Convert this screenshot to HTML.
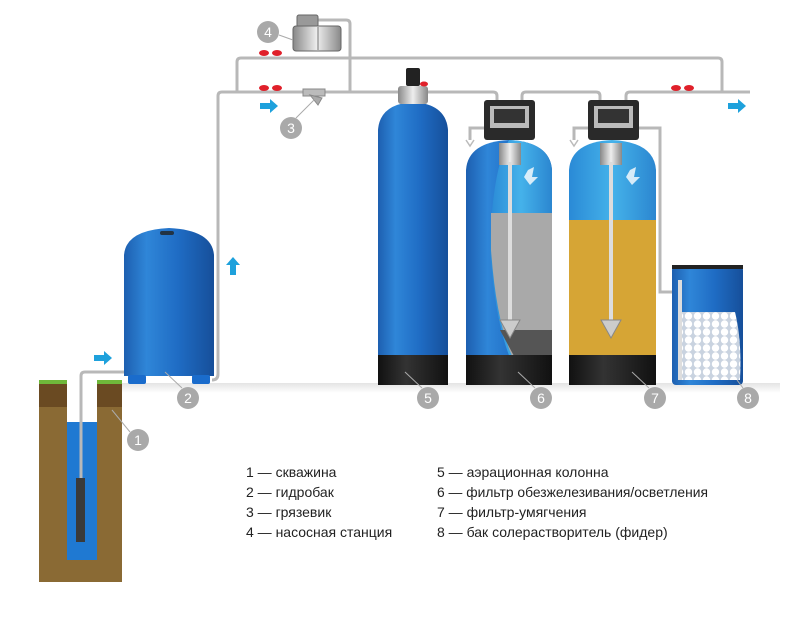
<!DOCTYPE html>
<html><head><meta charset="utf-8"><style>
html,body{margin:0;padding:0;background:#fff;width:807px;height:623px;overflow:hidden}
svg{display:block}
.lg{font-family:"Liberation Sans Narrow","Liberation Sans","Noto Sans CJK SC",sans-serif;font-size:14px;fill:#222}
.n{font-family:"Liberation Sans",sans-serif;font-size:14px;fill:#fff;text-anchor:middle}
</style></head><body>
<svg width="807" height="623" viewBox="0 0 807 623" xmlns="http://www.w3.org/2000/svg">
<defs>
<linearGradient id="blue" x1="0" x2="1">
<stop offset="0" stop-color="#1d5fb0"/><stop offset="0.25" stop-color="#2f86d8"/><stop offset="0.6" stop-color="#1f6cc4"/><stop offset="1" stop-color="#164f9a"/></linearGradient>
<linearGradient id="lblue" x1="0" x2="1">
<stop offset="0" stop-color="#2a8ad6"/><stop offset="0.5" stop-color="#45b2ea"/><stop offset="1" stop-color="#2b86d0"/></linearGradient>
<linearGradient id="blk" x1="0" x2="1">
<stop offset="0" stop-color="#111"/><stop offset="0.4" stop-color="#333"/><stop offset="1" stop-color="#111"/></linearGradient>
<linearGradient id="gr" x1="0" x2="0" y1="0" y2="1">
<stop offset="0" stop-color="#e4e4e4"/><stop offset="1" stop-color="#fff"/></linearGradient>
<linearGradient id="met" x1="0" x2="1">
<stop offset="0" stop-color="#888"/><stop offset="0.5" stop-color="#eee"/><stop offset="1" stop-color="#888"/></linearGradient>
<pattern id="salt" width="9" height="8" patternUnits="userSpaceOnUse">
<rect width="9" height="8" fill="#c9d3e0"/><circle cx="4.5" cy="4" r="3.7" fill="#fff"/></pattern>
</defs>

<rect x="120" y="383" width="660" height="10" fill="url(#gr)"/>

<g fill="none" stroke="#b8b8b8" stroke-width="3">
<path d="M212 380 Q218 380 218 374 V96 Q218 92 222 92 H493 Q497 92 497 96 V100"/>
<path d="M522 100 V96 Q522 92 526 92 H596 Q600 92 600 96 V100"/>
<path d="M626 100 V96 Q626 92 630 92 H750"/>
<path d="M237 92 V62 Q237 58 241 58 H718 Q722 58 722 62 V92"/>
<path d="M318 20 H346 Q350 20 350 24 V92"/>
<path d="M484 128 H470 V140"/>
<path d="M588 128 H574 V140"/>
<path d="M638 128 H660 V292 H676"/>
</g>
<path d="M466 140 l4 6 l4 -6 M570 140 l4 6 l4 -6" stroke="#bbb" fill="none" stroke-width="1.5"/>

<g fill="#e0202a">
<ellipse cx="264" cy="53" rx="5" ry="3"/><ellipse cx="277" cy="53" rx="5" ry="3"/>
<ellipse cx="264" cy="88" rx="5" ry="3"/><ellipse cx="277" cy="88" rx="5" ry="3"/>
<ellipse cx="676" cy="88" rx="5" ry="3"/><ellipse cx="689" cy="88" rx="5" ry="3"/>
</g>
<rect x="303" y="89" width="22" height="7" fill="#bbb" stroke="#888"/>
<path d="M310 95 L318 105 L322 98 Z" fill="#aaa" stroke="#888"/>
<rect x="297" y="15" width="21" height="12" rx="2" fill="#999" stroke="#666"/>
<rect x="293" y="26" width="48" height="25" rx="3" fill="url(#met)" stroke="#666"/>
<line x1="318" y1="27" x2="318" y2="50" stroke="#777"/>
<g fill="#1ea1dc">
<path d="M260 103 h10 v-4 l8 7 l-8 7 v-4 h-10z"/>
<path d="M94 355 h10 v-4 l8 7 l-8 7 v-4 h-10z"/>
<path d="M728 103 h10 v-4 l8 7 l-8 7 v-4 h-10z"/>
<path d="M230 275 v-10 h-4 l7 -8 l7 8 h-4 v10z"/>
</g>

<!-- well -->
<rect x="39" y="382" width="83" height="200" fill="#8a6a34"/>
<rect x="39" y="382" width="83" height="25" fill="#6a4a22"/>
<rect x="39" y="380" width="28" height="4" fill="#6fb83a"/>
<rect x="97" y="380" width="25" height="4" fill="#6fb83a"/>
<rect x="67" y="382" width="30" height="178" fill="#fff"/>
<rect x="67" y="422" width="30" height="138" fill="#1f79d2"/>
<path d="M81 478 V376 Q81 372 85 372 H126" fill="none" stroke="#b8b8b8" stroke-width="3"/>
<rect x="76" y="478" width="9" height="64" fill="#3a3a3a"/>

<path d="M124 255 Q126 230 169 228 Q212 230 214 255 V376 H124 Z" fill="url(#blue)"/>
<rect x="160" y="231" width="14" height="4" rx="2" fill="#234"/>
<rect x="128" y="375" width="18" height="9" rx="2" fill="#1a6ccc"/>
<rect x="192" y="375" width="18" height="9" rx="2" fill="#1a6ccc"/>

<path d="M378 130 Q380 104 413 102 Q446 104 448 130 V358 H378 Z" fill="url(#blue)"/>
<rect x="378" y="355" width="70" height="30" fill="url(#blk)"/>
<rect x="398" y="86" width="30" height="18" rx="3" fill="url(#met)"/>
<rect x="406" y="68" width="14" height="18" rx="2" fill="#222"/>
<ellipse cx="424" cy="84" rx="4" ry="2.5" fill="#e0202a"/>

<path d="M466 170 Q468 142 509 140 Q550 142 552 170 V358 H466 Z" fill="url(#blue)"/>
<path d="M509 140 Q550 142 552 170 V358 H510 Q495 320 490 250 Q492 170 509 140Z" fill="url(#lblue)"/>
<path d="M491 213 H552 V356 H512 Q496 320 491 250Z" fill="#a9a9a9"/>
<path d="M500 330 H552 V356 H514Z" fill="#555"/>
<rect x="499" y="143" width="22" height="22" fill="url(#met)"/>
<rect x="508" y="162" width="4" height="160" fill="#ddd"/>
<path d="M500 320 h20 l-10 18z" fill="#ccc" stroke="#888"/>
<rect x="466" y="355" width="86" height="30" fill="url(#blk)"/>
<rect x="484" y="100" width="51" height="40" rx="3" fill="#2a2a2a"/>
<rect x="490" y="106" width="39" height="22" fill="#bbb"/><rect x="494" y="109" width="31" height="14" fill="#333"/>

<path d="M569 170 Q571 142 612 140 Q654 142 656 170 V358 H569 Z" fill="url(#lblue)"/>
<rect x="569" y="220" width="87" height="137" fill="#d6a535"/>
<rect x="600" y="143" width="22" height="22" fill="url(#met)"/>
<rect x="609" y="162" width="4" height="160" fill="#ddd"/>
<path d="M601 320 h20 l-10 18z" fill="#ccc" stroke="#888"/>
<rect x="569" y="355" width="87" height="30" fill="url(#blk)"/>
<rect x="588" y="100" width="51" height="40" rx="3" fill="#2a2a2a"/>
<rect x="594" y="106" width="39" height="22" fill="#bbb"/><rect x="598" y="109" width="31" height="14" fill="#333"/>
<g fill="#fff" opacity="0.8"><path d="M528 170 l6 -3 l-2 10 l6 0 l-8 8 l-6 -8 z"/><path d="M630 170 l6 -3 l-2 10 l6 0 l-8 8 l-6 -8 z"/></g>

<rect x="672" y="266" width="71" height="119" rx="4" fill="url(#blue)"/>
<rect x="672" y="265" width="71" height="4" fill="#222"/>
<path d="M678 312 H735 Q742 340 740 380 H678Z" fill="url(#salt)"/>
<rect x="678" y="280" width="4" height="100" fill="#ddd"/>

<g fill="#a9a9a9">
<circle cx="268" cy="32" r="11"/><circle cx="291" cy="128" r="11"/><circle cx="188" cy="398" r="11"/><circle cx="138" cy="440" r="11"/>
<circle cx="428" cy="398" r="11"/><circle cx="541" cy="398" r="11"/><circle cx="655" cy="398" r="11"/><circle cx="748" cy="398" r="11"/>
</g>
<g stroke="#aaa" stroke-width="1" fill="none">
<path d="M279 35 L293 40"/><path d="M296 118 L316 98"/><path d="M182 388 L165 372"/><path d="M130 432 L112 410"/>
<path d="M422 388 L405 372"/><path d="M535 388 L518 372"/><path d="M649 388 L632 372"/><path d="M743 388 L737 380"/>
</g>
<g class="n">
<text x="268" y="37">4</text><text x="291" y="133">3</text><text x="188" y="403">2</text><text x="138" y="445">1</text>
<text x="428" y="403">5</text><text x="541" y="403">6</text><text x="655" y="403">7</text><text x="748" y="403">8</text>
</g>

<g class="lg">
<text x="246" y="477">1 — скважина</text>
<text x="246" y="497">2 — гидробак</text>
<text x="246" y="517">3 — грязевик</text>
<text x="246" y="537">4 — насосная станция</text>
<text x="437" y="477">5 — аэрационная колонна</text>
<text x="437" y="497" textLength="271" lengthAdjust="spacingAndGlyphs">6 — фильтр обезжелезивания/осветления</text>
<text x="437" y="517">7 — фильтр-умягчения</text>
<text x="437" y="537">8 — бак солерастворитель (фидер)</text>
</g>
</svg>
</body></html>
